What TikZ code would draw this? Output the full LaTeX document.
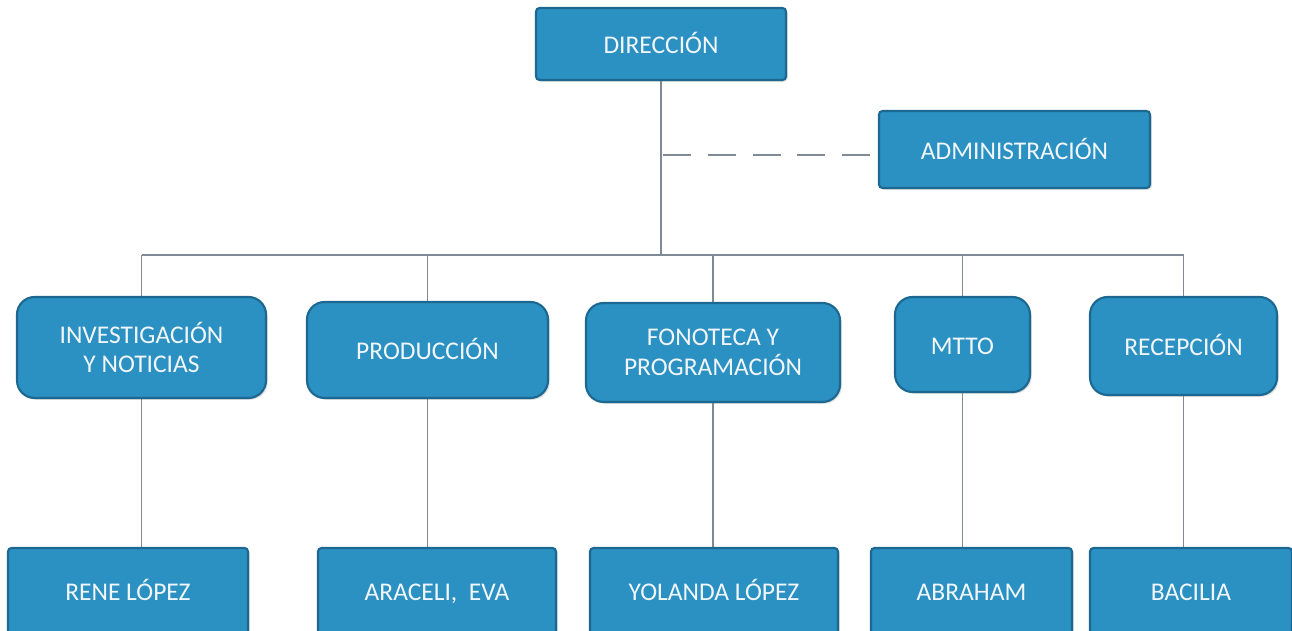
\documentclass[tikz,border=0pt]{standalone}
\usepackage{fontspec}
\setmainfont{Carlito}
\usetikzlibrary{shadows,backgrounds}
\definecolor{boxfill}{HTML}{2A91C2}
\definecolor{boxline}{HTML}{1C6890}
\definecolor{boxtext}{HTML}{F2F6FA}
\definecolor{conn}{HTML}{7F8A96}
\begin{document}
\begin{tikzpicture}[x=0.02cm,y=-0.02cm,
  dims/.style 2 args={minimum width=#1*0.02cm, minimum height=#2*0.02cm},
  unit/.style={draw=boxline, line width=1.2pt, fill=boxfill, text=boxtext,
    inner sep=0pt, align=center, font=\fontsize{14.5}{17}\selectfont,
    drop shadow={opacity=0.25, shadow xshift=1pt, shadow yshift=-1pt}},
  oneline/.style={text height=11pt, text depth=0pt},
  sqbox/.style={unit, oneline, rounded corners=2pt},
  rbox/.style={unit, rounded corners=10pt},
  link/.style={draw=conn, line width=0.8pt},
  dashlink/.style={link, dash pattern=on 15.9pt off 9.6pt}]
\clip (0,0) rectangle (1292,631);

% nodes
\node[sqbox, dims={250}{72}] (dir) at (661,44) {DIRECCIÓN};
\node[sqbox, dims={271}{77}] (adm) at (1014.5,149.5) {ADMINISTRACIÓN};

\node[rbox, dims={249}{101}] (inv) at (141.5,347.5) {INVESTIGACIÓN\\Y NOTICIAS};
\node[rbox, oneline, dims={241}{96}] (prod) at (427.5,350) {PRODUCCIÓN};
\node[rbox, dims={254}{99}] (fono) at (713,352.5) {FONOTECA Y\\PROGRAMACIÓN};
\node[rbox, oneline, dims={135}{95}] (mtto) at (962.5,344.5) {MTTO};
\node[rbox, oneline, dims={187}{98}] (recep) at (1183.5,346) {RECEPCIÓN};

\node[sqbox, dims={240}{86}] (rene) at (128,591) {RENE LÓPEZ};
\node[sqbox, dims={238}{86}] (araceli) at (437,591) {ARACELI,\ \ EVA};
\node[sqbox, dims={248}{86}] (yolanda) at (714,591) {YOLANDA LÓPEZ};
\node[sqbox, dims={201}{86}] (abraham) at (971.5,591) {ABRAHAM};
\node[sqbox, dims={202}{86}] (bacilia) at (1191,591) {BACILIA};

% connectors (behind nodes)
\coordinate (bus) at (659,255);
\coordinate (dashstart) at (663,155);
\begin{scope}[on background layer]
\fill[white] (0,0) rectangle (1292,631);
\draw[link] (dir.south) -- (dir.south |- bus);
\draw[link] (inv.north |- bus) -- (recep.north |- bus);
\draw[link] (inv.north |- bus) -- (inv.north);
\draw[link] (prod.north |- bus) -- (prod.north);
\draw[link] (fono.north |- bus) -- (fono.north);
\draw[link] (mtto.north |- bus) -- (mtto.north);
\draw[link] (recep.north |- bus) -- (recep.north);
\draw[dashlink] (dashstart) -- (dashstart -| adm.west);
\draw[link] (inv.south) -- (inv.south |- rene.north);
\draw[link] (prod.south) -- (prod.south |- araceli.north);
\draw[link] (fono.south) -- (fono.south |- yolanda.north);
\draw[link] (mtto.south) -- (mtto.south |- abraham.north);
\draw[link] (recep.south) -- (recep.south |- bacilia.north);
\end{scope}
\end{tikzpicture}
\end{document}
